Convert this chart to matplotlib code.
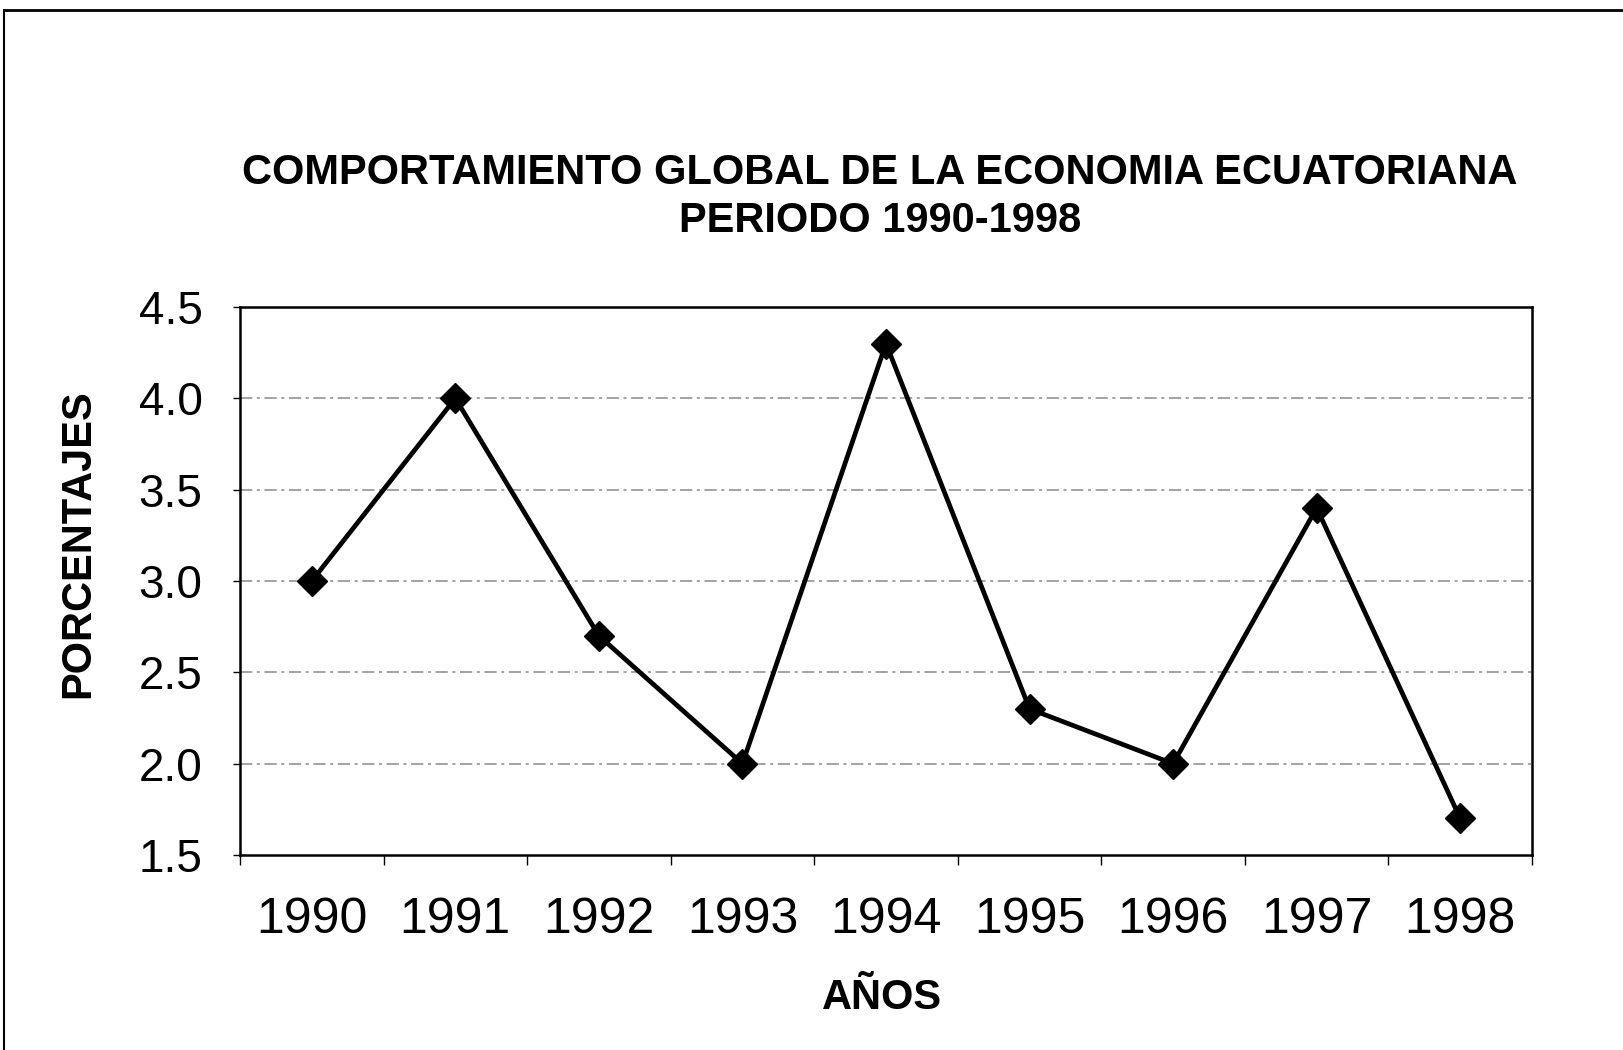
import matplotlib
matplotlib.use("Agg")
import matplotlib.pyplot as plt
from matplotlib.lines import Line2D

years = ["1990", "1991", "1992", "1993", "1994", "1995", "1996", "1997", "1998"]
values = [3.0, 4.0, 2.7, 2.0, 4.3, 2.3, 2.0, 3.4, 1.7]
yticks = [1.5, 2.0, 2.5, 3.0, 3.5, 4.0, 4.5]
ytick_labels = ["1.5", "2.0", "2.5", "3.0", "3.5", "4.0", "4.5"]

plt.rcParams['font.family'] = ['Liberation Sans', 'DejaVu Sans']

W, H = 1623, 1050
fig = plt.figure(figsize=(W / 100, H / 100), dpi=100)
fig.patch.set_facecolor('white')

# axes placement (pixels)
left, right, top, bottom = 240, 1532, 307, 855
ax = fig.add_axes([left / W, 1 - bottom / H, (right - left) / W, (bottom - top) / H])

x = list(range(len(years)))
ax.plot(x, values, color='black', lw=3.4, marker='D', markersize=15,
        markerfacecolor='black', markeredgecolor='black', zorder=3)

ax.set_xlim(-0.5, len(years) - 0.5)
ax.set_ylim(1.5, 4.5)
ax.set_yticks(yticks)
ax.set_yticklabels(ytick_labels)
ax.set_xticks(x)
ax.set_xticklabels(years)
ax.set_xticks([i + 0.5 for i in range(-1, len(years))], minor=True)
ax.tick_params(axis='x', which='major', length=0, pad=30, labelsize=36)
ax.tick_params(axis='x', which='minor', length=7, width=1, direction='out')
ax.tick_params(axis='y', which='major', length=5, width=1, pad=22, labelsize=33)

for v in yticks[1:-1]:
    ax.axhline(v, color='#8a8a8a', lw=1.1, ls=(0, (8, 3, 2, 3)), zorder=1)

for s in ax.spines.values():
    s.set_color('black')
    s.set_linewidth(1.8)

fig.text(882 / W, 1 - 998 / H, 'AÑOS', ha='center', va='center',
         fontsize=30, fontweight='bold')
fig.text(78 / W, 1 - 544 / H, 'PORCENTAJES', ha='center', va='center',
         rotation=90, fontsize=30, fontweight='bold')

fig.text(880 / W, 1 - 173 / H, 'COMPORTAMIENTO GLOBAL DE LA ECONOMIA ECUATORIANA',
         ha='center', va='center', fontsize=30, fontweight='bold')
fig.text(880 / W, 1 - 221 / H, 'PERIODO 1990-1998',
         ha='center', va='center', fontsize=30, fontweight='bold')

# outer frame (left and top visible)
fig.add_artist(Line2D([4 / W, 4 / W], [0, 1 - 10 / H], transform=fig.transFigure, color='black', lw=1.5))
fig.add_artist(Line2D([4 / W, 1], [1 - 10 / H, 1 - 10 / H], transform=fig.transFigure, color='black', lw=2))

fig.savefig('out.png', dpi=100, facecolor='white')
